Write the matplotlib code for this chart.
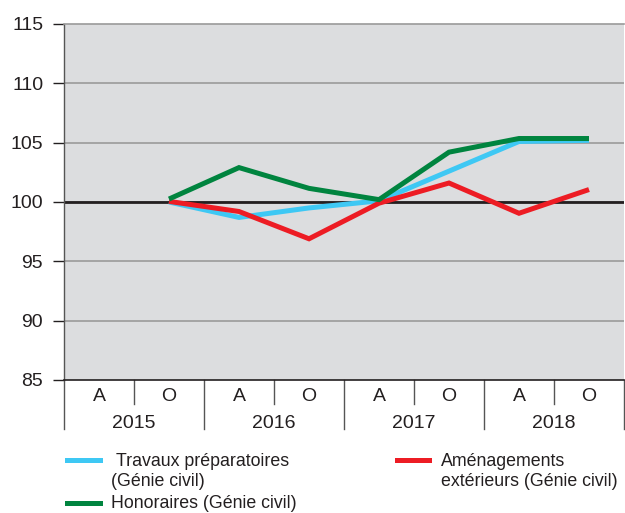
import matplotlib
matplotlib.use("Agg")
import matplotlib.pyplot as plt
from matplotlib.lines import Line2D

plt.rcParams['font.family'] = ['Liberation Sans', 'DejaVu Sans']

periods = ["A", "O", "A", "O", "A", "O", "A", "O"]
years = ["2015", "2016", "2017", "2018"]
# values from 2015 O (index 1) to 2018 O (index 7)
travaux = [100.0, 98.7, 99.5, 100.1, 102.6, 105.1, 105.2]
amenag = [100.05, 99.2, 96.9, 99.9, 101.6, 99.05, 101.05]
honor = [100.25, 102.9, 101.15, 100.2, 104.2, 105.35, 105.35]
start_idx = 1
yticks = [85, 90, 95, 100, 105, 110, 115]

c_blue = "#3ec8f4"
c_red = "#ed1c24"
c_green = "#00843f"

W, H = 625, 513
fig = plt.figure(figsize=(W / 100, H / 100), dpi=100)
ax_l, ax_r, ax_t, ax_b = 64, 624, 24, 380
ax = fig.add_axes([ax_l / W, 1 - ax_b / H, (ax_r - ax_l) / W, (ax_b - ax_t) / H])
ax.set_facecolor("#dcdddf")

xs = list(range(start_idx, start_idx + len(travaux)))
for y in yticks[1:-1]:
    ax.axhline(y, color="#9a9a9a", lw=1.2, zorder=1)
ax.axhline(100, color="#231f20", lw=2.0, zorder=2)

lw = 3.6
ax.plot(xs, travaux, color=c_blue, lw=lw, zorder=3, solid_joinstyle="miter", solid_capstyle="butt")
ax.plot(xs, amenag, color=c_red, lw=lw, zorder=4, solid_joinstyle="miter", solid_capstyle="butt")
ax.plot(xs, honor, color=c_green, lw=lw, zorder=5, solid_joinstyle="miter", solid_capstyle="butt")

ax.set_xlim(-0.5, len(periods) - 0.5)
ax.set_ylim(85, 115)
ax.set_yticks(yticks)
ax.set_yticklabels([str(v) for v in yticks], fontsize=14, color="#231f20")
ax.tick_params(axis="y", length=8, width=1, color="#231f20", pad=7)

ax.set_xticks(range(len(periods)))
ax.set_xticklabels(periods, fontsize=14, color="#231f20")
ax.tick_params(axis="x", length=0, pad=6)

ax.spines["right"].set_visible(False)
ax.spines["top"].set_color("#9a9a9a")
ax.spines["top"].set_linewidth(1.2)
ax.spines["left"].set_color("#555555")
ax.spines["bottom"].set_color("#231f20")
ax.spines["left"].set_linewidth(1.0)
ax.spines["bottom"].set_linewidth(1.2)

# category separators below axis
trans = ax.get_xaxis_transform()
axh = ax_b - ax_t
minor_len = (404 - ax_b) / axh
major_len = (429 - ax_b) / axh
for i in range(len(periods) + 1):
    xb = i - 0.5
    ln = major_len if i % 2 == 0 else minor_len
    ax.add_line(Line2D([xb, xb], [0, -ln], transform=trans, color="#555555", lw=1.0, clip_on=False))
for j, yr in enumerate(years):
    ax.text(2 * j + 0.5, -(424 - ax_b) / axh, yr, transform=trans, ha="center", va="center",
            fontsize=14, color="#231f20")

# legend
def leg_handle(x0, x1, y, color):
    fig.add_artist(Line2D([x0 / W, x1 / W], [1 - y / H, 1 - y / H], color=color, lw=3.6,
                          transform=fig.transFigure))

def leg_text(x, y, s):
    fig.text(x / W, 1 - y / H, s, ha="left", va="center", fontsize=12.8, color="#231f20")

leg_handle(67, 100, 460, c_blue)
leg_text(116, 461, "Travaux préparatoires")
leg_text(111, 481, "(Génie civil)")
leg_handle(67, 100, 503, c_green)
leg_text(111, 504, "Honoraires (Génie civil)")
leg_handle(397, 429, 460, c_red)
leg_text(441, 461, "Aménagements")
leg_text(441, 481, "extérieurs (Génie civil)")

fig.savefig("out.png", dpi=100, facecolor="white")
